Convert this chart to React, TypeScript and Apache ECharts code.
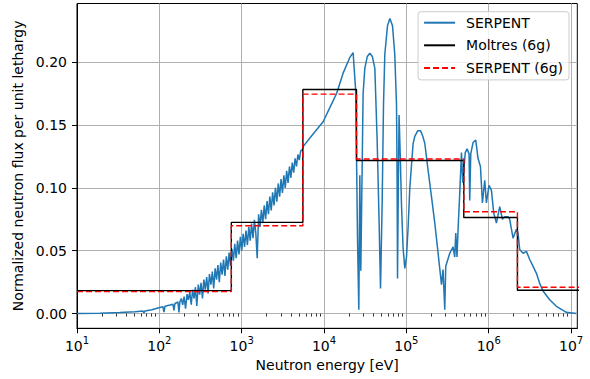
import React, { useEffect, useRef } from 'react';
import * as echarts from 'echarts';

const FONT = 'DejaVu Sans';

// 6-group structure (eV) and group fluxes
const groupBounds = [10, 748.52, 5530.8, 24788, 497870, 2231300, 2e7];
const moltres6g = [0.0183, 0.0725, 0.1782, 0.1217, 0.0764, 0.0185];
const serpent6g = [0.0175, 0.0698, 0.1745, 0.1229, 0.081, 0.021];

// SERPENT continuous-energy spectrum: [energy (eV), normalized flux per unit lethargy]
const serpentSpectrum: [number, number][] = [
  [10, 0.0], [19, 0.0003], [33, 0.0008], [50.6, 0.0015], [63.2, 0.002], [65, 0.0006], [66.9, 0.0021],
  [81.3, 0.003], [96, 0.0045], [110.6, 0.0055], [113.8, 0.0012], [117, 0.0058], [134.5, 0.0068],
  [146.3, 0.0075], [150.4, 0.0025], [154.6, 0.008], [168.2, 0.0092], [172.9, 0.001], [177.8, 0.0095],
  [185, 0.012], [192, 0.007], [200, 0.0135], [208, 0.004], [217, 0.0155], [225, 0.011], [234, 0.017],
  [244, 0.007], [253, 0.019], [264, 0.012], [274, 0.021], [285, 0.006], [297, 0.023], [309, 0.015],
  [321, 0.0245], [334, 0.012], [347, 0.027], [361, 0.019], [376, 0.029], [391, 0.016], [406, 0.0315],
  [423, 0.023], [440, 0.0335], [457, 0.02], [476, 0.036], [495, 0.027], [514, 0.0385], [535, 0.025],
  [556, 0.0405], [579, 0.031], [602, 0.043], [626, 0.03], [651, 0.0455], [677, 0.035], [704, 0.0485],
  [732, 0.038], [761, 0.0515], [792, 0.042], [824, 0.0555], [857, 0.044], [891, 0.058], [927, 0.047],
  [964, 0.061], [1002, 0.05], [1042, 0.0635], [1084, 0.053], [1127, 0.066], [1173, 0.0545], [1220, 0.069],
  [1268, 0.058], [1319, 0.0715], [1372, 0.06], [1427, 0.0745], [1484, 0.064], [1543, 0.044], [1605, 0.079],
  [1669, 0.069], [1736, 0.0825], [1805, 0.072], [1877, 0.086], [1952, 0.075], [2031, 0.0895], [2112, 0.079],
  [2196, 0.093], [2284, 0.082], [2375, 0.0965], [2470, 0.086], [2569, 0.1], [2672, 0.089], [2779, 0.1035],
  [2890, 0.093], [3006, 0.107], [3126, 0.096], [3251, 0.11], [3381, 0.1], [3516, 0.1135], [3657, 0.104],
  [3803, 0.117], [3955, 0.108], [4114, 0.12], [4278, 0.112], [4449, 0.1235], [4627, 0.117], [4812, 0.1265],
  [5005, 0.122], [5205, 0.1295], [5413, 0.13],
  [5600, 0.133], [7000, 0.141], [9750, 0.1526], [12000, 0.165], [14200, 0.175], [17000, 0.191],
  [20500, 0.2035], [22550, 0.2075], [24180, 0.178], [24800, 0.126], [25500, 0.06], [26440, 0.003],
  [27200, 0.11], [27960, 0.034], [28750, 0.095], [29820, 0.175], [31260, 0.195], [33540, 0.2045],
  [35970, 0.207], [38550, 0.2045], [41400, 0.195], [44100, 0.139], [46640, 0.073], [48500, 0.02],
  [50750, 0.0865], [52740, 0.166], [54700, 0.206], [59000, 0.229], [62950, 0.2347], [67800, 0.229],
  [72300, 0.206], [75850, 0.166], [77100, 0.11], [78000, 0.028], [79800, 0.1], [81500, 0.158],
  [84300, 0.125], [87200, 0.0865], [91200, 0.052], [95700, 0.036], [100300, 0.045], [105000, 0.069],
  [110000, 0.0998], [115300, 0.118], [120600, 0.135], [126500, 0.141], [137500, 0.1455], [148300, 0.1455],
  [158200, 0.141], [167200, 0.1355], [183400, 0.114], [201700, 0.093], [221300, 0.072], [242700, 0.048],
  [266900, 0.023], [278800, 0.035], [292400, 0.003], [300600, 0.0376], [336300, 0.048], [368800, 0.053],
  [386500, 0.045], [397800, 0.064], [412000, 0.045], [424300, 0.067], [444800, 0.096], [466600, 0.128],
  [483600, 0.104], [518800, 0.128], [545700, 0.131], [577000, 0.127], [587800, 0.09], [605000, 0.127],
  [644900, 0.136], [695500, 0.138], [741300, 0.1235], [793000, 0.117], [838500, 0.088], [893900, 0.106],
  [937200, 0.088], [1.008e6, 0.102], [1.078e6, 0.098], [1.15e6, 0.08], [1.24e6, 0.072], [1.359e6, 0.085],
  [1.466e6, 0.075], [1.563e6, 0.077], [1.714e6, 0.077], [1.798e6, 0.075], [1.973e6, 0.06], [2.169e6, 0.067],
  [2.268e6, 0.064], [2.378e6, 0.051], [2.609e6, 0.048], [2.868e6, 0.0495], [3.148e6, 0.043],
  [3.455e6, 0.0375], [3.796e6, 0.032], [4.16e6, 0.024], [4.563e6, 0.018], [5.5e6, 0.011], [6.63e6, 0.0058],
  [8.77e6, 0.001], [1.16e7, 0.0],
];

const xMajorTicks = [10, 100, 1e3, 1e4, 1e5, 1e6, 1e7];
const yTicks = [0, 0.05, 0.1, 0.15, 0.2];
const X_MIN = 10;
const X_MAX = 1.19e7;
const Y_MIN = -0.0117;
const Y_MAX = 0.2466;

const xMinorTicks: number[] = [];
xMajorTicks.forEach((d) => {
  for (let k = 2; k <= 9; k++) {
    const v = k * d;
    if (v <= X_MAX) xMinorTicks.push(v);
  }
});

const stepData = (vals: number[]) =>
  groupBounds.map((b, i) => [b, vals[Math.min(i, vals.length - 1)]]);

export default function App() {
  const ref = useRef<HTMLDivElement>(null);
  useEffect(() => {
    if (!ref.current) return;
    const chart = echarts.init(ref.current, undefined, { renderer: 'svg' });
    const option: any = {
      animation: false,
      backgroundColor: '#ffffff',
      textStyle: { fontFamily: FONT },
      grid: {
        left: 77,
        right: 12.7,
        top: 3.5,
        bottom: 50.7,
        show: true,
        borderColor: '#000',
        borderWidth: 1,
        backgroundColor: 'transparent',
      },
      legend: {
        orient: 'vertical',
        right: 21,
        top: 11.7,
        padding: [4, 6, 5, 5],
        itemWidth: 31,
        itemHeight: 14,
        itemGap: 8.6,
        itemStyle: { opacity: 0 },
        backgroundColor: 'rgba(255,255,255,0.8)',
        borderColor: '#cccccc',
        borderWidth: 1,
        borderRadius: 3,
        textStyle: { fontSize: 14, color: '#000', fontFamily: FONT, padding: [0, 0, 0, 6] },
        data: ['SERPENT', 'Moltres (6g)', 'SERPENT (6g)'],
      },
      xAxis: [
        {
          type: 'log',
          logBase: 10,
          min: X_MIN,
          max: X_MAX,
          name: 'Neutron energy [eV]',
          nameLocation: 'middle',
          nameGap: 28,
          nameTextStyle: { fontSize: 14, color: '#000', fontFamily: FONT },
          axisLine: { show: true, onZero: false, lineStyle: { color: '#000', width: 1 } },
          axisTick: { show: true, inside: false, length: 5, customValues: xMajorTicks, lineStyle: { color: '#000', width: 1 } },
          axisLabel: {
            customValues: xMajorTicks,
            margin: 7,
            formatter: (v: number) => `{b|10}{s|${Math.round(Math.log10(v))}}`,
            rich: {
              b: { fontSize: 14, fontFamily: FONT, color: '#000', lineHeight: 18, verticalAlign: 'bottom' },
              s: { fontSize: 10, fontFamily: FONT, color: '#000', lineHeight: 10, verticalAlign: 'top' },
            },
          },
          splitLine: { show: true, lineStyle: { color: '#b0b0b0', width: 1 } },
          minorTick: { show: false },
          minorSplitLine: { show: false },
        },
        {
          type: 'log',
          logBase: 10,
          min: X_MIN,
          max: X_MAX,
          gridIndex: 0,
          position: 'bottom',
          axisLine: { show: false },
          axisTick: { show: true, inside: false, length: 3, customValues: xMinorTicks, lineStyle: { color: '#000', width: 0.8 } },
          axisLabel: { show: false },
          splitLine: { show: false },
        },
      ],
      yAxis: {
        type: 'value',
        min: Y_MIN,
        max: Y_MAX,
        name: 'Normalized neutron flux per unit lethargy',
        nameLocation: 'middle',
        nameGap: 50,
        nameTextStyle: { fontSize: 14, color: '#000', fontFamily: FONT },
        axisLine: { show: true, onZero: false, lineStyle: { color: '#000', width: 1 } },
        axisTick: { show: true, inside: false, length: 5, customValues: yTicks, lineStyle: { color: '#000', width: 1 } },
        axisLabel: {
          customValues: yTicks,
          margin: 10,
          fontSize: 14,
          color: '#000',
          fontFamily: FONT,
          formatter: (v: number) => v.toFixed(2),
        },
        splitLine: { show: true, lineStyle: { color: '#b0b0b0', width: 1 } },
      },
      series: [
        {
          name: 'SERPENT',
          type: 'line',
          xAxisIndex: 0,
          symbol: 'none',
          showSymbol: false,
          lineStyle: { color: '#1f77b4', width: 1.5 },
          itemStyle: { color: '#1f77b4' },
          data: serpentSpectrum,
          z: 2,
        },
        {
          name: 'Moltres (6g)',
          type: 'line',
          xAxisIndex: 0,
          step: 'end',
          symbol: 'none',
          showSymbol: false,
          lineStyle: { color: '#000000', width: 1.4 },
          itemStyle: { color: '#000000' },
          data: stepData(moltres6g),
          z: 3,
        },
        {
          name: 'SERPENT (6g)',
          type: 'line',
          xAxisIndex: 0,
          step: 'end',
          symbol: 'none',
          showSymbol: false,
          lineStyle: { color: '#ff0000', width: 1.4, type: [6, 3] },
          itemStyle: { color: '#ff0000' },
          data: stepData(serpent6g),
          z: 4,
        },
      ],
    };
    chart.setOption(option);
    return () => chart.dispose();
  }, []);
  return (
    <div
      ref={ref}
      style={{ position: 'fixed', left: 0, top: 0, width: 590, height: 379, background: '#fff' }}
    />
  );
}
